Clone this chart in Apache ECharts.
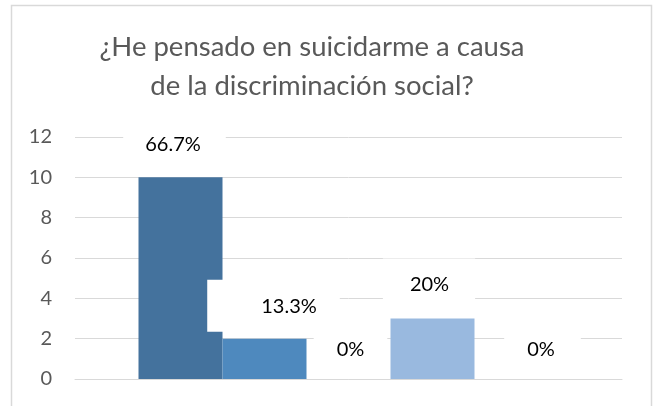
<!DOCTYPE html>
<html>
<head>
<meta charset="utf-8">
<script src="https://cdn.jsdelivr.net/npm/echarts@6/dist/echarts.min.js"></script>
<style>
html,body{margin:0;padding:0;background:#fff;}
#chart{width:655px;height:406px;}
</style>
</head>
<body>
<div id="chart"></div>
<script>
// ---- data ----
var categories = ['Respuesta'];
var seriesNames = ['Siempre', 'Casi siempre', 'A veces', 'Casi nunca', 'Nunca'];
var values = [10, 2, 0, 3, 0];
var yTicks = [0, 2, 4, 6, 8, 10, 12];

// ---- styles (not data) ----
var colors = ['#44729D', '#4E89BE', '#7FA6D3', '#99B9DF', '#B9CDE8'];
var labelOffsets = [[-6, -7], [9, -7], [2, -3.5], [-3.5, -8], [26, -3.5]];
var labelPads = [[16, 25, 16, 22], [17, 23, 15, 54], [16, 23, 16, 23], [16, 26, 16, 27], [16, 26, 16, 23]];

var total = values.reduce(function (a, b) { return a + b; }, 0);
function pct(v) {
  var p = Math.round(v / total * 1000) / 10;
  return (p % 1 === 0 ? p.toFixed(0) : p.toFixed(1)) + '%';
}

var chart = echarts.init(document.getElementById('chart'));
var series = seriesNames.map(function (name, i) {
  return {
    name: name,
    type: 'bar',
    data: [values[i]],
    barWidth: 84,
    barGap: '0%',
    itemStyle: { color: colors[i] },
    label: {
      show: true,
      position: 'top',
      distance: 0,
      offset: labelOffsets[i],
      formatter: function () { return pct(values[i]); },
      fontFamily: 'Lato',
      fontSize: 20,
      lineHeight: 20,
      color: '#000',
      backgroundColor: '#fff',
      padding: labelPads[i]
    }
  };
});

chart.setOption({
  animation: false,
  title: {
    text: '¿He pensado en suicidarme a causa\nde la discriminación social?',
    left: 312,
    textAlign: 'center',
    top: 28,
    padding: 0,
    textStyle: {
      fontFamily: 'Lato',
      fontWeight: 'normal',
      fontSize: 27.5,
      lineHeight: 39,
      color: '#595959'
    }
  },
  graphic: [{
    type: 'rect',
    shape: { x: 11.5, y: 5.5, width: 640, height: 430 },
    style: { fill: 'none', stroke: '#d9d9d9', lineWidth: 1.5 },
    silent: true
  }],
  grid: { left: 75, right: 33, top: 137, bottom: 27 },
  xAxis: {
    type: 'category',
    data: categories,
    axisLine: { show: true, lineStyle: { color: '#d9d9d9', width: 1 } },
    axisTick: { show: false },
    axisLabel: { show: false }
  },
  yAxis: {
    type: 'value',
    min: yTicks[0],
    max: yTicks[yTicks.length - 1],
    interval: yTicks[1] - yTicks[0],
    axisLine: { show: false },
    axisTick: { show: false },
    axisLabel: { margin: 23, fontFamily: 'Lato', fontSize: 20, color: '#595959' },
    splitLine: { lineStyle: { color: '#d9d9d9', width: 1 } }
  },
  series: series
});
</script>
</body>
</html>
